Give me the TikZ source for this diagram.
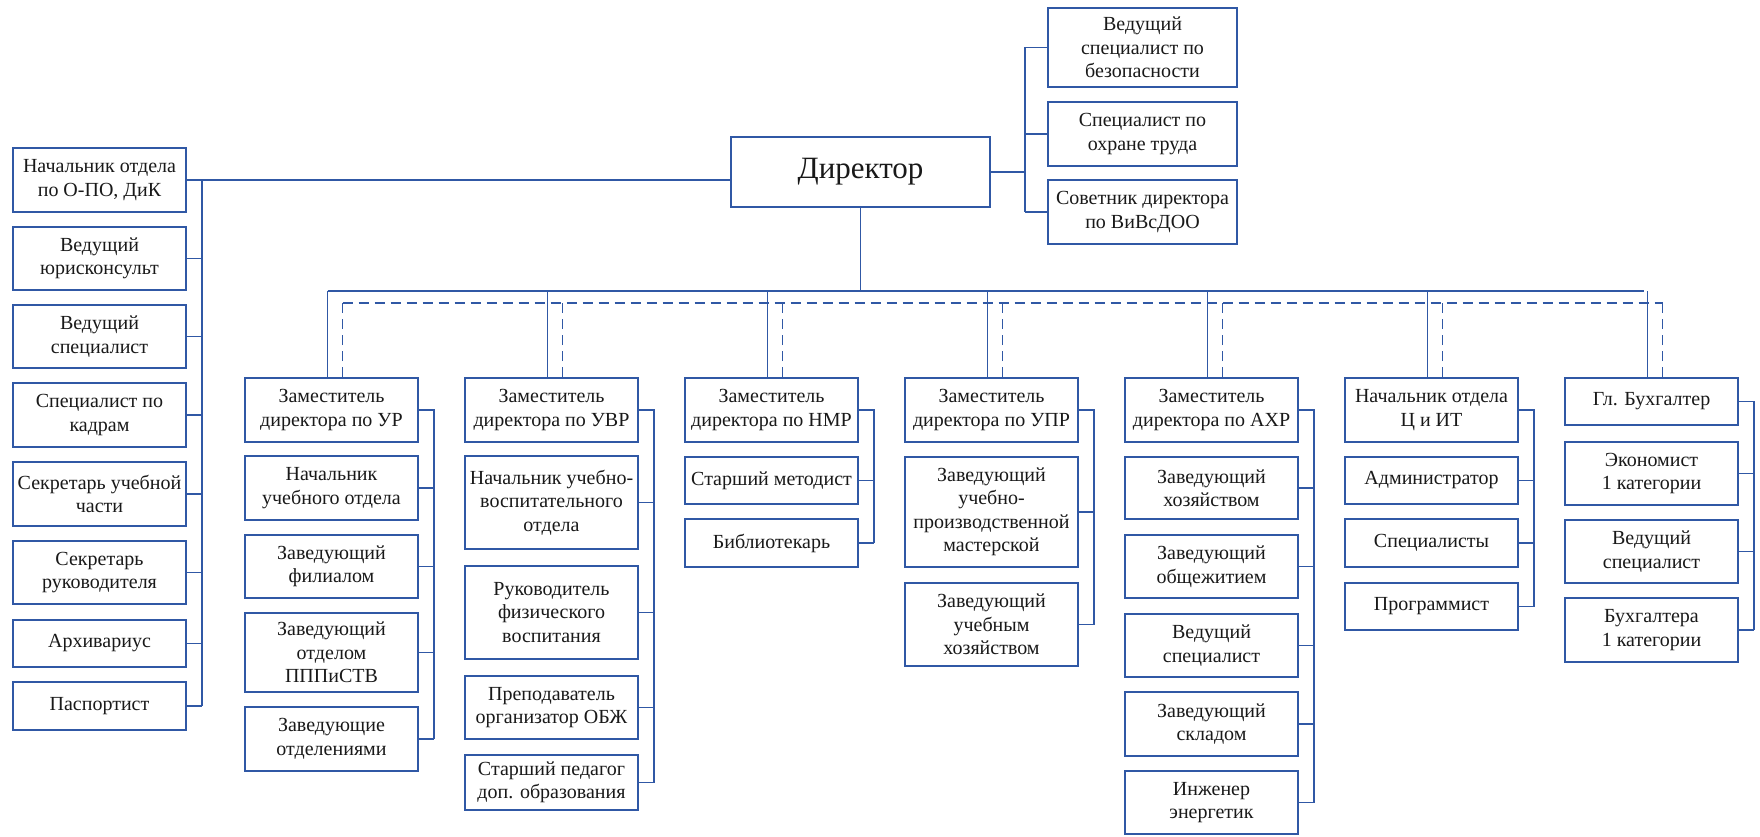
\documentclass[tikz,border=0pt]{standalone}
\usepackage{fontspec}
\setmainfont{Liberation Serif}
\usetikzlibrary{calc}
\definecolor{bl}{RGB}{48,88,165}
\begin{document}
\begin{tikzpicture}[x=1pt,y=-1pt,
  box/.style={draw=bl,line width=1.8pt,fill=white,align=center,inner sep=0pt,
    minimum width=173pt,font=\fontsize{20}{23.5}\selectfont,text=black!90},
  bh/.style={minimum height=#1},
  ln/.style={draw=bl,line width=1.5pt},
  dl/.style={draw=bl,line width=1.5pt,dash pattern=on 10pt off 6pt}]
\useasboundingbox (0,0) rectangle (1760,837);

% Director
\node[box,minimum width=259pt,bh=70pt,font=\fontsize{31}{36}\selectfont] (dir) at (860.5,172) {Директор};

% top right
\node[box,minimum width=189pt,bh=79pt] (t1) at (1142.5,47.5) {Ведущий\\специалист по\\безопасности};
\node[box,minimum width=189pt,bh=64pt] (t2) at (1142.5,134) {Специалист по\\охране труда};
\node[box,minimum width=189pt,bh=64pt] (t3) at (1142.5,212) {Советник директора\\по ВиВсДОО};

% left column
\node[box,bh=64pt] (l1) at (99.5,180) {Начальник отдела\\по О-ПО, ДиК};
\node[box,bh=63pt] (l2) at (99.5,258.5) {Ведущий\\юрисконсульт};
\node[box,bh=63pt] (l3) at (99.5,336.5) {Ведущий\\специалист};
\node[box,bh=64pt] (l4) at (99.5,415) {Специалист по\\кадрам};
\node[box,bh=64pt] (l5) at (99.5,494) {Секретарь учебной\\части};
\node[box,bh=63pt] (l6) at (99.5,572.5) {Секретарь\\руководителя};
\node[box,bh=47pt] (l7) at (99.5,643.5) {Архивариус};
\node[box,bh=48pt] (l8) at (99.5,706) {Паспортист};

% column heads
\node[box,bh=64pt] (h1) at (331.5,410) {Заместитель\\директора по УР};
\node[box,bh=64pt] (h2) at (551.5,410) {Заместитель\\директора по УВР};
\node[box,bh=64pt] (h3) at (771.5,410) {Заместитель\\директора по НМР};
\node[box,bh=64pt] (h4) at (991.5,410) {Заместитель\\директора по УПР};
\node[box,bh=64pt] (h5) at (1211.5,410) {Заместитель\\директора по АХР};
\node[box,bh=64pt] (h6) at (1431.5,410) {Начальник отдела\\Ц и ИТ};
\node[box,bh=47pt] (h7) at (1651.5,401.5) {Гл. Бухгалтер};

% column 1
\node[box,bh=64pt] (a1) at (331.5,488) {Начальник\\учебного отдела};
\node[box,bh=63pt] (a2) at (331.5,566.5) {Заведующий\\филиалом};
\node[box,bh=79pt] (a3) at (331.5,652.5) {Заведующий\\отделом\\ПППиСТВ};
\node[box,bh=64pt] (a4) at (331.5,739) {Заведующие\\отделениями};
% column 2
\node[box,bh=93pt] (b1) at (551.5,502.5) {Начальник учебно-\\воспитательного\\отдела};
\node[box,bh=93pt] (b2) at (551.5,612.5) {Руководитель\\физического\\воспитания};
\node[box,bh=63pt] (b3) at (551.5,707.5) {Преподаватель\\организатор ОБЖ};
\node[box,bh=55pt] (b4) at (551.5,782.5) {Старший педагог\\доп. образования};
% column 3
\node[box,bh=47pt] (c1) at (771.5,480.5) {Старший методист};
\node[box,bh=48pt] (c2) at (771.5,543) {Библиотекарь};
% column 4
\node[box,bh=110pt] (d1) at (991.5,512) {Заведующий\\учебно-\\производственной\\мастерской};
\node[box,bh=83pt] (d2) at (991.5,624.5) {Заведующий\\учебным\\хозяйством};
% column 5
\node[box,bh=62pt] (e1) at (1211.5,488) {Заведующий\\хозяйством};
\node[box,bh=63pt] (e2) at (1211.5,566.5) {Заведующий\\общежитием};
\node[box,bh=63pt] (e3) at (1211.5,645.5) {Ведущий\\специалист};
\node[box,bh=64pt] (e4) at (1211.5,724) {Заведующий\\складом};
\node[box,bh=63pt] (e5) at (1211.5,802.5) {Инженер\\энергетик};
% column 6
\node[box,bh=47pt] (f1) at (1431.5,480.5) {Администратор};
\node[box,bh=48pt] (f2) at (1431.5,543) {Специалисты};
\node[box,bh=47pt] (f3) at (1431.5,606.5) {Программист};
% column 7
\node[box,bh=63pt] (g1) at (1651.5,473.5) {Экономист\\1 категории};
\node[box,bh=63pt] (g2) at (1651.5,551.5) {Ведущий\\специалист};
\node[box,bh=64pt] (g3) at (1651.5,630) {Бухгалтера\\1 категории};

% left bracket
\draw[ln] (l1.east) -- (l1.east -| dir.west);
\coordinate (lb) at ($(l1.east)+(15,0)$);
\draw[ln] (lb) -- (lb |- l8.east);
\foreach \n in {l2,l3,l4,l5,l6,l7,l8} \draw[ln] (\n.east) -- (\n.east -| lb);

% top right bracket
\coordinate (tb) at ($(t1.west)+(-22,0)$);
\draw[ln] (dir.east) -- (dir.east -| tb);
\draw[ln] (tb) -- (tb |- t3.west);
\foreach \n in {t1,t2,t3} \draw[ln] (\n.west) -- (\n.west -| tb);

% buses
\coordinate (bus) at (860.5,291);
\coordinate (dbus) at (860.5,303);
\draw[ln] (dir.south) -- (bus);
\foreach \n in {h1,h2,h3,h4,h5,h6} {
  \coordinate (v\n) at ([xshift=-4pt]\n.north);
  \coordinate (w\n) at ([xshift=11pt]\n.north);
}
\coordinate (vh7) at ([xshift=-4pt]h1.north -| h7.north);
\coordinate (vh7) at ($(vh7)+(-4,0)$);
\coordinate (wh7) at ($(h1.north -| h7.north)+(11,0)$);
\coordinate (hh7) at ($(h7.north)+(-4,0)$);
\coordinate (kh7) at ($(h7.north)+(11,0)$);
\draw[ln] (vh1 |- bus) -- (vh7 |- bus);
\draw[dl] (wh1 |- dbus) -- (wh7 |- dbus);
\foreach \n in {h1,h2,h3,h4,h5,h6} {
  \draw[ln] (v\n) -- (v\n |- bus);
  \draw[dl] (w\n) -- (w\n |- dbus);
}
\draw[ln] (hh7) -- (hh7 |- bus);
\draw[dl] (kh7) -- (kh7 |- dbus);

% column brackets
\coordinate (k1) at ($(h1.east)+(15,0)$);
\draw[ln] (h1.east) -- (k1) -- (k1 |- a4.east);
\foreach \n in {a1,a2,a3,a4} \draw[ln] (\n.east) -- (\n.east -| k1);
\coordinate (k2) at ($(h2.east)+(15,0)$);
\draw[ln] (h2.east) -- (k2) -- (k2 |- b4.east);
\foreach \n in {b1,b2,b3,b4} \draw[ln] (\n.east) -- (\n.east -| k2);
\coordinate (k3) at ($(h3.east)+(15,0)$);
\draw[ln] (h3.east) -- (k3) -- (k3 |- c2.east);
\foreach \n in {c1,c2} \draw[ln] (\n.east) -- (\n.east -| k3);
\coordinate (k4) at ($(h4.east)+(15,0)$);
\draw[ln] (h4.east) -- (k4) -- (k4 |- d2.east);
\foreach \n in {d1,d2} \draw[ln] (\n.east) -- (\n.east -| k4);
\coordinate (k5) at ($(h5.east)+(15,0)$);
\draw[ln] (h5.east) -- (k5) -- (k5 |- e5.east);
\foreach \n in {e1,e2,e3,e4,e5} \draw[ln] (\n.east) -- (\n.east -| k5);
\coordinate (k6) at ($(h6.east)+(15,0)$);
\draw[ln] (h6.east) -- (k6) -- (k6 |- f3.east);
\foreach \n in {f1,f2,f3} \draw[ln] (\n.east) -- (\n.east -| k6);
\coordinate (k7) at ($(h7.east)+(15,0)$);
\draw[ln] (h7.east) -- (k7) -- (k7 |- g3.east);
\foreach \n in {g1,g2,g3} \draw[ln] (\n.east) -- (\n.east -| k7);
\end{tikzpicture}
\end{document}
